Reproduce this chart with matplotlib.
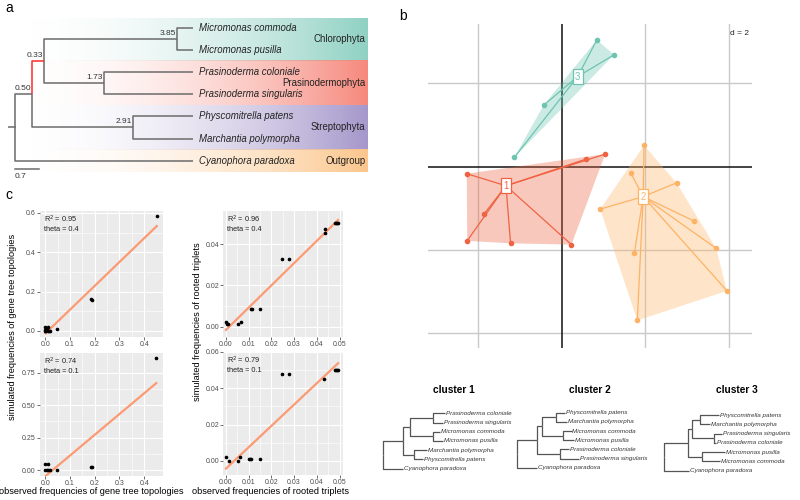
import numpy as np
import matplotlib
matplotlib.use("Agg")
import matplotlib.pyplot as plt

plt.rcParams['font.family'] = ['Liberation Sans', 'DejaVu Sans']

# ---------------- data ----------------
# panel a: species tree (name, branch length, children)
tree_a = ("root", 0.0, [
    ("n050", 0.50, [
        ("n033", 0.33, [
            ("n385", 3.85, [("Micromonas commoda", 0.47, []), ("Micromonas pusilla", 0.47, [])]),
            ("n173", 1.73, [("Prasinoderma coloniale", 2.59, []), ("Prasinoderma singularis", 2.59, [])]),
        ]),
        ("n291", 2.91, [("Physcomitrella patens", 1.74, []), ("Marchantia polymorpha", 1.74, [])]),
    ]),
    ("Cyanophora paradoxa", 5.15, []),
])
highlight_branch = "n033"
groups = ["Chlorophyta", "Prasinodermophyta", "Streptophyta", "Outgroup"]
group_tips = [(0, 1), (2, 3), (4, 5), (6, 6)]
group_colors = ["#8fd1c3", "#f7887c", "#a597cb", "#fcc68c"]
scale_bar = 0.7

# panel b: MDS of gene tree clusters
c1_center = (-1.34, -0.46)
c1_x = [-2.28, 1.04, 0.58, -1.86, -2.27, -1.23, 0.23]
c1_y = [-0.17, 0.30, 0.18, -1.13, -1.78, -1.84, -1.87]
c2_center = (1.95, -0.72)
c2_x = [1.97, 1.65, 2.75, 0.92, 3.16, 3.70, 1.74, 3.96, 1.81]
c2_y = [0.51, -0.15, -0.39, -1.02, -1.30, -1.96, -2.07, -2.98, -3.69]
c3_center = (0.38, 2.16)
c3_x = [0.84, 1.25, -0.44, -1.14]
c3_y = [3.04, 2.68, 1.47, 0.22]
cluster_colors = ["#ef6343", "#fdb366", "#6cc4b1"]

# cluster consensus trees (branch lengths in arbitrary units)
cl1 = ("r", 0, [
    ("a", 20, [
        ("b", 7.3, [
            ("p", 22.7, [("Prasinoderma coloniale", 12.3, []), ("Prasinoderma singularis", 10, [])]),
            ("m", 22.7, [("Micromonas commoda", 7.3, []), ("Micromonas pusilla", 10.6, [])]),
        ]),
        ("s", 11.6, [("Marchantia polymorpha", 12.4, []), ("Physcomitrella patens", 9, [])]),
    ]),
    ("Cyanophora paradoxa", 20.6, []),
])
cl2 = ("r", 0, [
    ("a", 19.4, [
        ("b", 5.6, [
            ("s", 13.4, [("Physcomitrella patens", 9.3, []), ("Marchantia polymorpha", 11.6, [])]),
            ("m", 21, [("Micromonas commoda", 8.4, []), ("Micromonas pusilla", 11, [])]),
        ]),
        ("p", 23.3, [("Prasinoderma coloniale", 9.3, []), ("Prasinoderma singularis", 19.3, [])]),
    ]),
    ("Cyanophora paradoxa", 20, []),
])
cl3 = ("r", 0, [
    ("a", 24.3, [
        ("b", 4, [
            ("s", 7.7, [("Physcomitrella patens", 19.3, []), ("Marchantia polymorpha", 10, [])]),
            ("p", 21.3, [("Prasinoderma singularis", 8.4, []), ("Prasinoderma coloniale", 2.7, [])]),
        ]),
        ("m", 14, [("Micromonas pusilla", 22.7, []), ("Micromonas commoda", 17.7, [])]),
    ]),
    ("Cyanophora paradoxa", 25.3, []),
])
cluster_titles = ["cluster 1", "cluster 2", "cluster 3"]

# panel c: observed vs simulated frequencies
gt_obs_04 = [0.451, 0.186, 0.19, 0.047, 0.0, 0.0, 0.005, 0.01, 0.015, 0.02, 0.0, 0.01, 0.003]
gt_sim_04 = [0.583, 0.164, 0.155, 0.01, 0.02, 0.0, 0.01, 0.02, 0.0, 0.0, 0.005, 0.0, 0.0]
gt_obs_01 = [0.449, 0.186, 0.19, 0.0, 0.01, 0.0, 0.02, 0.047, 0.005, 0.012]
gt_sim_01 = [0.862, 0.026, 0.021, 0.044, 0.044, 0.0, 0.0, 0.0, 0.0, 0.0]
rt_obs_04 = [0.0, 0.0005, 0.001, 0.0054, 0.0065, 0.011, 0.0115, 0.015, 0.0248, 0.0278,
             0.0437, 0.0437, 0.0482, 0.0486, 0.049, 0.0494]
rt_sim_04 = [0.0024, 0.0012, 0.0012, 0.0012, 0.0022, 0.0085, 0.0085, 0.0084, 0.0326, 0.0326,
             0.0475, 0.0455, 0.05, 0.05, 0.05, 0.05]
rt_obs_01 = [0.0, 0.0013, 0.0054, 0.0062, 0.0102, 0.0106, 0.011, 0.015, 0.0248, 0.0278,
             0.0433, 0.0482, 0.0486, 0.049, 0.0494]
rt_sim_01 = [0.0024, 0.0, 0.0, 0.0024, 0.001, 0.001, 0.001, 0.001, 0.0475, 0.0475,
             0.0448, 0.05, 0.05, 0.05, 0.05]
r2_texts = ["0.95", "0.74", "0.96", "0.79"]
theta_texts = ["0.4", "0.1", "0.4", "0.1"]

# ---------------- helpers ----------------
W, H = 800, 500
fig = plt.figure(figsize=(8, 5), dpi=100)


def px_axes(x0, y0, x1, y1):
    return fig.add_axes([x0 / W, 1 - y1 / H, (x1 - x0) / W, (y1 - y0) / H])


def layout(tree, x0=0.0, y0=0.0, dy=1.0):
    segs, tips, nodes = [], [], []
    counter = [0]

    def rec(node, xpos):
        name, length, children = node
        x = xpos + length
        if not children:
            y = y0 + counter[0] * dy
            counter[0] += 1
            tips.append((name, x, y))
            return x, y
        pos = [rec(c, x) for c in children]
        y = (pos[0][1] + pos[-1][1]) / 2
        for (cx, cy), c in zip(pos, children):
            segs.append((c[0], [x, x, cx], [y, cy, cy]))
        nodes.append((name, x, y, length))
        return x, y

    rx, ry = rec(tree, x0)
    return segs, tips, nodes, (rx, ry)


def hull(pts):
    pts = sorted(set(pts))
    def cross(o, a, b):
        return (a[0]-o[0])*(b[1]-o[1]) - (a[1]-o[1])*(b[0]-o[0])
    lower, upper = [], []
    for p in pts:
        while len(lower) >= 2 and cross(lower[-2], lower[-1], p) <= 0:
            lower.pop()
        lower.append(p)
    for p in reversed(pts):
        while len(upper) >= 2 and cross(upper[-2], upper[-1], p) <= 0:
            upper.pop()
        upper.append(p)
    return lower[:-1] + upper[:-1]


# ---------------- panel a ----------------
axa = px_axes(8, 18, 368, 172)
unit = 34.6
xmin = -7 / unit
xmax = xmin + 360 / unit
ymin_a, ymax_a = 6.51, -0.44
segs, tips, nodes, (rx, ry) = layout(tree_a)

xx = np.linspace(xmin, xmax, 400)
alpha = np.clip((xx - xmin) / (xmax - xmin), 0, 1) ** 2
bounds = [-0.44, 1.5, 3.5, 5.5, 6.51]
for gi, (g, col) in enumerate(zip(groups, group_colors)):
    rgb = matplotlib.colors.to_rgb(col)
    img = np.zeros((1, len(xx), 4))
    img[..., 0], img[..., 1], img[..., 2] = rgb
    img[..., 3] = alpha
    top, bot = bounds[gi], bounds[gi + 1]
    axa.imshow(img, extent=[xmin, xmax, bot, top], aspect='auto', zorder=0,
               interpolation='bilinear')
    a, b = group_tips[gi]
    axa.text(xmax - 0.08, (a + b) / 2, g, ha='right', va='center', fontsize=6.9,
             color='#222222', zorder=3)

for name, xs, ys in segs:
    col = '#ff2b2b' if name == highlight_branch else '#6b6b6b'
    axa.plot(xs, ys, color=col, lw=1.1, solid_capstyle='butt', zorder=2 if col == '#6b6b6b' else 2.5)
axa.plot([xmin + 0.0, rx], [ry, ry], color='#6b6b6b', lw=1.1, zorder=2)
for name, x, y in tips:
    axa.text(x + 0.17, y, name, style='italic', fontsize=6.9, va='center', ha='left',
             color='#222222', zorder=3)
for name, x, y, length in nodes:
    if name != "root":
        axa.text(x - 0.02, y - 0.1, f"{length:.2f}", ha='right', va='bottom', fontsize=6,
                 color='#333333', zorder=3)
axa.plot([0, scale_bar], [6.37, 6.37], color='#6b6b6b', lw=1.1, clip_on=False)
axa.text(0, 6.55, f"{scale_bar}", fontsize=6, va='top', ha='left', color='#333333', clip_on=False)
axa.set_xlim(xmin, xmax)
axa.set_ylim(ymin_a, ymax_a)
axa.axis('off')

# ---------------- panel b ----------------
axb = px_axes(428, 24, 752, 348)
axb.set_xlim(-3.21, 4.56)
axb.set_ylim(-4.35, 3.42)
for v in [-2, 2, 4]:
    axb.axvline(v, color='#c9c9c9', lw=1.0, zorder=0)
for v in [2, -2, -4]:
    axb.axhline(v, color='#c9c9c9', lw=1.0, zorder=0)
axb.axvline(0, color='#111111', lw=1.1, zorder=0.5)
axb.axhline(0, color='#111111', lw=1.1, zorder=0.5)

clusters = [(c1_center, c1_x, c1_y), (c2_center, c2_x, c2_y), (c3_center, c3_x, c3_y)]
for ci, ((cx, cy), xs, ys) in enumerate(clusters):
    col = cluster_colors[ci]
    h = hull(list(zip(xs, ys)))
    poly = plt.Polygon(h, closed=True, facecolor=col, alpha=0.35, edgecolor='none', zorder=1)
    axb.add_patch(poly)
    for x, y in zip(xs, ys):
        axb.plot([cx, x], [cy, y], color=col, lw=0.9, zorder=2)
    axb.plot(xs, ys, 'o', color=col, ms=3, zorder=3)
    axb.text(cx, cy, str(ci + 1), ha='center', va='center', fontsize=7, color=col, zorder=4,
             bbox=dict(boxstyle='square,pad=0.25', facecolor='white', edgecolor=col, lw=0.9))
axb.text(4.5, 3.2, "d = 2", ha='right', va='center', fontsize=6, color='#222222')
axb.axis('off')

# cluster trees
axt = px_axes(370, 370, 800, 500)
axt.set_xlim(370, 800)
axt.set_ylim(500, 370)
axt.axis('off')
tree_specs = [(cl1, 382.7, 413.3, 9.23), (cl2, 517.3, 412.7, 9.17), (cl3, 664.0, 415.0, 9.28)]
title_x = [454, 590, 737]
for (tr, x0, y0, dy), tx, title in zip(tree_specs, title_x, cluster_titles):
    segs, tips, nodes, (rx, ry) = layout(tr, x0, y0, dy)
    for name, xs, ys in segs:
        axt.plot(xs, ys, color='#555555', lw=0.9, solid_capstyle='butt')
    for name, x, y in tips:
        axt.text(x + 0.8, y, name, style='italic', fontsize=4.5, va='center', ha='left',
                 color='#333333')
    axt.text(tx, 390, title, fontsize=7.3, fontweight='bold', ha='center', va='center')

# ---------------- panel c ----------------
def gg_axes(ax, xlim, ylim, xticks, xlabels, yticks, ylabels):
    ax.set_facecolor('#EBEBEB')
    for s in ax.spines.values():
        s.set_visible(False)
    ax.set_xlim(*xlim)
    ax.set_ylim(*ylim)
    ax.set_xticks(xticks)
    ax.set_xticklabels(xlabels)
    ax.set_yticks(yticks)
    ax.set_yticklabels(ylabels)
    xt = np.array(xticks)
    yt = np.array(yticks)
    ax.set_xticks((xt[:-1] + xt[1:]) / 2, minor=True)
    ax.set_yticks((yt[:-1] + yt[1:]) / 2, minor=True)
    ax.grid(True, which='major', color='white', lw=0.8)
    ax.grid(True, which='minor', color='white', lw=0.4)
    ax.set_axisbelow(True)
    ax.tick_params(which='major', length=2, width=0.5, color='#333333', pad=1,
                   labelsize=5, labelcolor='#4d4d4d')
    ax.tick_params(which='minor', length=0)


def scatter_fit(ax, x, y, r2, theta):
    x = np.asarray(x)
    y = np.asarray(y)
    k, b = np.polyfit(x, y, 1)
    xs = np.array([x.min(), x.max()])
    ax.plot(xs, k * xs + b, color='#fb9a73', lw=1.6, zorder=2)
    ax.plot(x, y, 'o', color='black', ms=1.6, zorder=3)
    ax.text(0.03, 0.975, f"R$^2$ = {r2}\ntheta = {theta}", transform=ax.transAxes,
            ha='left', va='top', fontsize=5.3, color='#222222', linespacing=1.15)


gx_ticks = [0, 0.1, 0.2, 0.3, 0.4]
gx_labels = ["0.0", "0.1", "0.2", "0.3", "0.4"]
rx_ticks = [0, 0.01, 0.02, 0.03, 0.04, 0.05]
rx_labels = ["0.00", "0.01", "0.02", "0.03", "0.04", "0.05"]

ax1 = px_axes(40, 211, 162.7, 336.7)
gg_axes(ax1, (-0.022, 0.475), (-0.03, 0.61), gx_ticks, gx_labels,
        [0, 0.2, 0.4, 0.6], ["0.0", "0.2", "0.4", "0.6"])
scatter_fit(ax1, gt_obs_04, gt_sim_04, r2_texts[0], theta_texts[0])

ax2 = px_axes(40, 352.7, 162.7, 476)
gg_axes(ax2, (-0.022, 0.475), (-0.046, 0.905), gx_ticks, gx_labels,
        [0, 0.25, 0.5, 0.75], ["0.00", "0.25", "0.50", "0.75"])
scatter_fit(ax2, gt_obs_01, gt_sim_01, r2_texts[1], theta_texts[1])

ax3 = px_axes(223.3, 211, 342.7, 336.7)
gg_axes(ax3, (-0.0012, 0.0514), (-0.0048, 0.056), rx_ticks, rx_labels,
        [0, 0.02, 0.04], ["0.00", "0.02", "0.04"])
scatter_fit(ax3, rt_obs_04, rt_sim_04, r2_texts[2], theta_texts[2])

ax4 = px_axes(223.3, 351.7, 342.7, 475)
gg_axes(ax4, (-0.0012, 0.0514), (-0.0077, 0.06), rx_ticks, rx_labels,
        [0, 0.02, 0.04, 0.06], ["0.00", "0.02", "0.04", "0.06"])
scatter_fit(ax4, rt_obs_01, rt_sim_01, r2_texts[3], theta_texts[3])

fig.text(13 / W, 1 - 327 / H, "simulated frequencies of gene tree topologies", rotation=90,
         ha='center', va='center', fontsize=6.6)
fig.text(197 / W, 1 - 322 / H, "simulated frequencies of rooted triplets", rotation=90,
         ha='center', va='center', fontsize=6.6)
fig.text(91 / W, 1 - 492 / H, "observed frequencies of gene tree topologies",
         ha='center', va='center', fontsize=6.6)
fig.text(271 / W, 1 - 492 / H, "observed frequencies of rooted triplets",
         ha='center', va='center', fontsize=6.6)

# panel letters
fig.text(5 / W, 1 - 8 / H, "a", fontsize=10, ha='left', va='center')
fig.text(399 / W, 1 - 16 / H, "b", fontsize=10, ha='left', va='center')
fig.text(5 / W, 1 - 195 / H, "c", fontsize=10, ha='left', va='center')

fig.savefig("out.png", dpi=100)
